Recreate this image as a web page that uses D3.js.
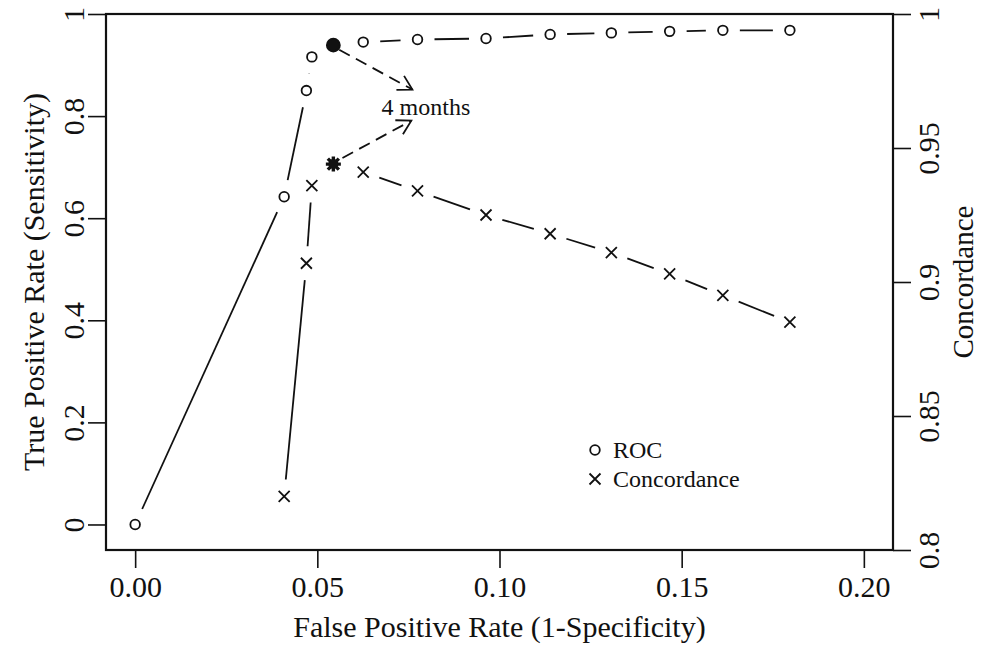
<!DOCTYPE html>
<html>
<head>
<meta charset="utf-8">
<script src="https://cdn.jsdelivr.net/npm/d3@7"></script>
<style>
  body { margin: 0; background: #fff; }
  svg { font-family: "Liberation Serif", "DejaVu Serif", serif; }
</style>
</head>
<body>
<div id="chart"></div>
<script>
// false positive rate shared by both series
const fpr = [0.000, 0.0409, 0.0470, 0.0485, 0.0544, 0.0626, 0.0775, 0.0963, 0.1139, 0.1307, 0.1467, 0.1613, 0.1797];
// true positive rate (left axis)
const roc = [0.000, 0.642, 0.850, 0.916, 0.939, 0.945, 0.950, 0.952, 0.960, 0.963, 0.966, 0.968, 0.968];
// concordance (right axis), no value at the first threshold
const concordance = [null, 0.820, 0.907, 0.936, 0.944, 0.941, 0.934, 0.925, 0.918, 0.911, 0.903, 0.895, 0.885];
const highlight = 4;  // the "4 months" point

const xTicks = [0, 0.05, 0.10, 0.15, 0.20];
const yTicks = [0, 0.2, 0.4, 0.6, 0.8, 1];
const y2Ticks = [0.8, 0.85, 0.9, 0.95, 1];

// arrows: [x0, y0, x1, y1] in left axis units
const arrows = [
  [0.0560, 0.930, 0.0761, 0.852],
  [0.0569, 0.718, 0.0758, 0.791]
];
const note = { x: 0.0798, y: 0.803, text: "4 months" };

const W = 981, H = 647;
const box = { left: 106, right: 893, top: 14, bottom: 550 };

const svg = d3.select("#chart").append("svg")
    .attr("width", W)
    .attr("height", H);

const x = d3.scaleLinear().domain([-0.008, 0.208]).range([box.left, box.right]);
const y = d3.scaleLinear().domain([-0.05, 1]).range([box.bottom, box.top]);
const y2 = d3.scaleLinear().domain([0.8, 1]).range([box.bottom, box.top]);

const ink = "#111";

// axes
const fmtY = d => d === 0 ? "0" : d === 1 ? "1" : String(d);

const gx = svg.append("g")
    .attr("transform", `translate(0,${box.bottom})`)
    .call(d3.axisBottom(x).tickValues(xTicks).tickSize(18).tickFormat(d3.format(".2f")));
gx.selectAll("text").attr("y", 47).attr("dy", null).style("font-size", "30px");

const gy = svg.append("g")
    .attr("transform", `translate(${box.left},0)`)
    .call(d3.axisLeft(y).tickValues(yTicks).tickSize(18).tickFormat(fmtY));
gy.selectAll("text")
    .attr("x", null).attr("dy", "0.35em")
    .attr("text-anchor", "middle")
    .attr("transform", "translate(-33,0) rotate(-90)")
    .style("font-size", "30px");

const gy2 = svg.append("g")
    .attr("transform", `translate(${box.right},0)`)
    .call(d3.axisRight(y2).tickValues(y2Ticks).tickSize(18).tickFormat(fmtY));
gy2.selectAll("text")
    .attr("x", null).attr("dy", "0.35em")
    .attr("text-anchor", "middle")
    .attr("transform", "translate(35,0) rotate(-90)")
    .style("font-size", "30px");

svg.selectAll(".domain").remove();
svg.selectAll(".tick line").attr("stroke", ink).attr("stroke-width", 1.6);
svg.selectAll(".tick text").attr("fill", ink).style("font-family", "Liberation Serif, serif");

// plot box
svg.append("rect")
    .attr("x", box.left).attr("y", box.top)
    .attr("width", box.right - box.left).attr("height", box.bottom - box.top)
    .attr("fill", "none").attr("stroke", ink).attr("stroke-width", 2.2);

// axis titles
svg.append("text")
    .attr("x", (box.left + box.right) / 2).attr("y", 637)
    .attr("text-anchor", "middle").style("font-size", "30px").attr("fill", ink)
    .text("False Positive Rate (1-Specificity)");

svg.append("text")
    .attr("transform", `translate(33,${(box.top + box.bottom) / 2}) rotate(-90)`)
    .attr("dy", "0.35em")
    .attr("text-anchor", "middle").style("font-size", "30px").attr("fill", ink)
    .text("True Positive Rate (Sensitivity)");

svg.append("text")
    .attr("transform", `translate(964,${(box.top + box.bottom) / 2}) rotate(-90)`)
    .attr("dy", "0.3em")
    .attr("text-anchor", "middle").style("font-size", "29px").attr("fill", ink)
    .text("Concordance");

// R type="b" style lines: segments with gaps around the points
const gap = 17;
function gappedLines(pts) {
  const segs = [];
  for (let i = 1; i < pts.length; i++) {
    const [x0, y0] = pts[i - 1], [x1, y1] = pts[i];
    const d = Math.hypot(x1 - x0, y1 - y0);
    if (d <= 2 * gap) continue;
    const ux = (x1 - x0) / d, uy = (y1 - y0) / d;
    segs.push([x0 + ux * gap, y0 + uy * gap, x1 - ux * gap, y1 - uy * gap]);
  }
  return segs;
}

const rocPts = fpr.map((f, i) => [x(f), y(roc[i]), i]);
const concPts = fpr.map((f, i) => [x(f), concordance[i] == null ? null : y2(concordance[i]), i])
    .filter(p => p[1] != null);

const lines = svg.append("g").attr("stroke", ink).attr("stroke-width", 1.8);
[rocPts, concPts].forEach(pts => {
  lines.selectAll(null)
    .data(gappedLines(pts))
    .enter().append("line")
      .attr("x1", d => d[0]).attr("y1", d => d[1])
      .attr("x2", d => d[2]).attr("y2", d => d[3]);
});

// ROC circles
svg.append("g").selectAll("circle")
    .data(rocPts)
    .enter().append("circle")
      .attr("cx", d => d[0]).attr("cy", d => d[1])
      .attr("r", d => d[2] === highlight ? 6.5 : 4.8)
      .attr("fill", d => d[2] === highlight ? ink : "none")
      .attr("stroke", ink).attr("stroke-width", 1.8);

// concordance crosses
function cross(g, cx, cy, s, w) {
  g.append("path")
    .attr("d", `M${cx - s},${cy - s}L${cx + s},${cy + s}M${cx - s},${cy + s}L${cx + s},${cy - s}`)
    .attr("stroke", ink).attr("stroke-width", w).attr("fill", "none");
}
const gc = svg.append("g");
concPts.forEach(p => {
  if (p[2] === highlight) {
    // asterisk marker
    cross(gc, p[0], p[1], 5.5, 3.4);
    gc.append("path")
      .attr("d", `M${p[0] - 7.5},${p[1]}L${p[0] + 7.5},${p[1]}M${p[0]},${p[1] - 7.5}L${p[0]},${p[1] + 7.5}`)
      .attr("stroke", ink).attr("stroke-width", 3.4);
    gc.append("circle").attr("cx", p[0]).attr("cy", p[1]).attr("r", 5).attr("fill", ink);
  } else {
    cross(gc, p[0], p[1], 5.5, 1.8);
  }
});

// arrows with open heads
const ga = svg.append("g").attr("stroke", ink).attr("stroke-width", 1.8).attr("fill", "none");
arrows.forEach(a => {
  const x0 = x(a[0]), y0 = y(a[1]), x1 = x(a[2]), y1 = y(a[3]);
  ga.append("line")
    .attr("x1", x0).attr("y1", y0).attr("x2", x1).attr("y2", y1)
    .attr("stroke-dasharray", "12,7");
  const ang = Math.atan2(y0 - y1, x0 - x1), len = 16, spread = Math.PI / 6;
  ga.append("path")
    .attr("d", `M${x1 + len * Math.cos(ang - spread)},${y1 + len * Math.sin(ang - spread)}L${x1},${y1}L${x1 + len * Math.cos(ang + spread)},${y1 + len * Math.sin(ang + spread)}`);
});

svg.append("text")
    .attr("x", x(note.x)).attr("y", y(note.y))
    .attr("text-anchor", "middle").style("font-size", "24px").attr("fill", ink)
    .text(note.text);

// legend
const lg = svg.append("g").attr("transform", "translate(595,450)");
lg.append("circle").attr("r", 4.8).attr("fill", "none").attr("stroke", ink).attr("stroke-width", 1.8);
cross(lg, 0, 29, 5.5, 1.8);
lg.append("text").attr("x", 18).attr("y", 8).style("font-size", "24px").attr("fill", ink).text("ROC");
lg.append("text").attr("x", 18).attr("y", 37).style("font-size", "24px").attr("fill", ink).text("Concordance");
</script>
</body>
</html>
